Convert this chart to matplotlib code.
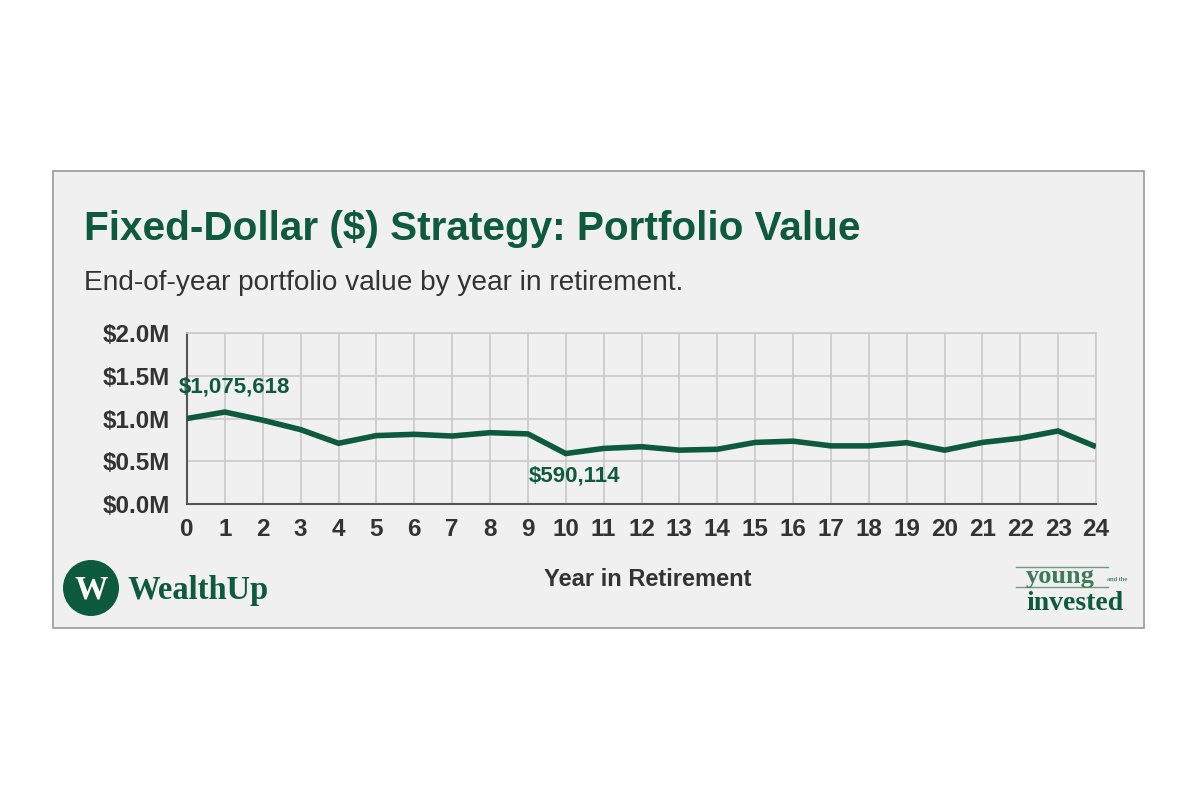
import matplotlib.pyplot as plt
from matplotlib.patches import Rectangle, Circle
from matplotlib.ticker import FuncFormatter

# data
years = list(range(25))
portfolio_m = [1.00, 1.075618, 0.98, 0.87, 0.71, 0.80, 0.815, 0.795, 0.834, 0.82,
               0.590114, 0.65, 0.67, 0.63, 0.64, 0.72, 0.735, 0.68, 0.68, 0.717,
               0.63, 0.72, 0.77, 0.854, 0.67]
y_ticks = [0.0, 0.5, 1.0, 1.5, 2.0]
peak_label = "$1,075,618"
trough_label = "$590,114"

GREEN = "#0d5a3f"
TEXT = "#333333"
PANEL = "#f0f0f0"
SERIF = ["Liberation Serif", "DejaVu Serif"]

plt.rcParams["font.family"] = ["Liberation Sans", "DejaVu Sans"]

fig = plt.figure(figsize=(12, 8), dpi=100)
fig.patch.set_facecolor("white")

# background layer in pixel coordinates: card + logos
bg = fig.add_axes([0, 0, 1, 1], zorder=-1)
bg.set_xlim(0, 1200)
bg.set_ylim(800, 0)
bg.axis("off")
bg.add_patch(Rectangle((53, 171), 1144 - 53, 628 - 171, facecolor=PANEL,
                       edgecolor="#9a9a9a", linewidth=1.2))

bg.text(84, 229, "Fixed-Dollar ($) Strategy: Portfolio Value",
        fontsize=29.2, fontweight="bold", color=GREEN, va="center", ha="left")
bg.text(84, 283, "End-of-year portfolio value by year in retirement.",
        fontsize=20.2, color=TEXT, va="center", ha="left")

bg.text(648, 580, "Year in Retirement", fontsize=17, fontweight="bold",
        color=TEXT, ha="center", va="center")

# WealthUp logo
bg.add_patch(Circle((91, 588), 28, facecolor=GREEN, edgecolor="none"))
bg.text(91, 590, "W", fontsize=24, fontweight="bold", color="white",
        ha="center", va="center", family=SERIF)
bg.text(127, 590, "WealthUp", fontsize=23.5, fontweight="bold", color=GREEN,
        ha="left", va="center", family=SERIF)

# young and the invested logo
bg.plot([1016, 1108], [567, 567], color="#6f9a83", linewidth=1.0)
bg.plot([1016, 1108], [587, 587], color="#6f9a83", linewidth=1.0)
bg.text(1060, 583, "young", fontsize=19, fontweight="bold", color="#3f7a5c",
        ha="center", va="baseline", family=SERIF)
bg.text(1117, 581, "and the", fontsize=5, color=GREEN,
        ha="center", va="baseline", family=SERIF)
bg.text(1075, 610, "invested", fontsize=20, fontweight="bold", color=GREEN,
        ha="center", va="baseline", family=SERIF)

# main chart
ax = fig.add_axes([187 / 1200, 1 - 504 / 800, (1096 - 187) / 1200, (504 - 333) / 800])
ax.set_facecolor(PANEL)
ax.plot(years, portfolio_m, color=GREEN, linewidth=4, solid_joinstyle="miter",
        solid_capstyle="butt", zorder=3)

ax.set_xlim(0, 24)
ax.set_ylim(0, 2.0)
ax.set_xticks(years)
ax.set_yticks(y_ticks)
ax.yaxis.set_major_formatter(FuncFormatter(lambda v, p: f"${v:.1f}M"))
ax.grid(True, color="#c9c9c9", linewidth=1.2)
ax.set_axisbelow(True)
ax.tick_params(length=0, labelsize=17.5, labelcolor=TEXT)
ax.tick_params(axis="y", pad=12)
ax.tick_params(axis="x", pad=10)
for lab in ax.get_xticklabels() + ax.get_yticklabels():
    lab.set_fontweight("bold")

for side in ["top", "right"]:
    ax.spines[side].set_color("#c9c9c9")
    ax.spines[side].set_linewidth(1.2)
for side in ["bottom", "left"]:
    ax.spines[side].set_color("#555555")
    ax.spines[side].set_linewidth(1.5)

ax.annotate(peak_label, (1, portfolio_m[1]), xytext=(7, 18), textcoords="offset points",
            ha="center", va="center", fontsize=16, fontweight="bold", color=GREEN)
ax.annotate(trough_label, (10, portfolio_m[10]), xytext=(6, -16), textcoords="offset points",
            ha="center", va="center", fontsize=16, fontweight="bold", color=GREEN)

fig.savefig("out.png", dpi=100, facecolor=fig.get_facecolor())
